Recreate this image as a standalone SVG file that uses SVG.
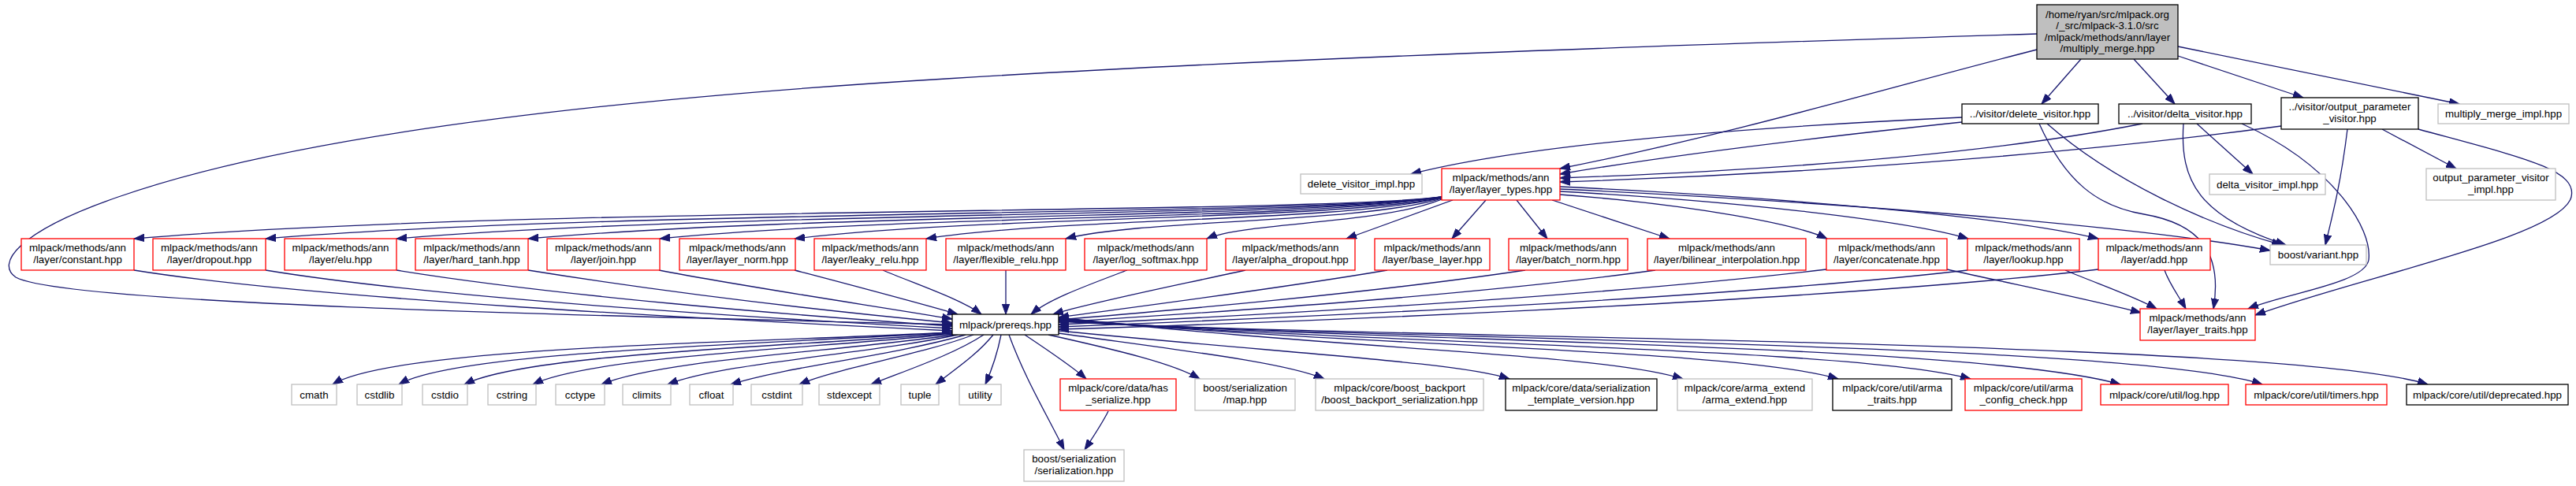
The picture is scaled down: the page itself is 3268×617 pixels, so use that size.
<svg xmlns="http://www.w3.org/2000/svg" width="3268" height="617" viewBox="0 0 3268 617">
<style>
text{font-family:"Liberation Sans",Arial,Helvetica,sans-serif;font-size:13.33px;text-anchor:middle;fill:#000}
rect{stroke-width:1.3}
.r{fill:#fff;stroke:#ff0000}
.k{fill:#fff;stroke:#000}
.g{fill:#fff;stroke:#bfbfbf}
.root{fill:#bfbfbf;stroke:#000}
#edges path{fill:none;stroke:#191970;stroke-width:1.3;marker-end:url(#a)}
</style>
<defs>
<marker id="a" markerUnits="userSpaceOnUse" markerWidth="14" markerHeight="10" refX="13" refY="5" orient="auto">
<path d="M0,0.3 L13,5 L0,9.7 z" fill="#191970" stroke="#191970" stroke-width="1"/>
</marker>
</defs>
<rect width="3268" height="617" fill="#fff"/>
<g id="edges">
<path d="M2584,43 C2100,58 1600,75 1200,100 C700,130 350,180 150,250 C20,295 -5,335 20,352 C80,385 700,400 1208,412"/>
<path d="M2640,75 L2590,132"/>
<path d="M2707,75 L2759,132"/>
<path d="M2763,71 L2922,124"/>
<path d="M2763,59 L3120,132"/>
<path d="M2584,63 C2400,110 2200,170 1979,214"/>
<path d="M2489,149 C2250,160 1950,180 1790,221"/>
<path d="M2489,155 C2300,175 2100,200 1979,221"/>
<path d="M2597,157 C2680,230 2800,285 2895,311"/>
<path d="M2587,157 C2620,230 2660,262 2720,272 C2790,284 2820,320 2808,392"/>
<path d="M2718,157 C2500,200 2200,218 1979,226"/>
<path d="M2787,157 L2858,221"/>
<path d="M2770,157 C2765,230 2790,275 2900,311"/>
<path d="M2844,157 C2960,210 3010,290 3005,330 C3000,360 2900,372 2852,392"/>
<path d="M2978,164 C2970,230 2960,270 2950,311"/>
<path d="M3022,164 L3116,214"/>
<path d="M2894,160 C2600,200 2250,222 1979,231"/>
<path d="M3068,164 C3200,200 3270,215 3262,250 C3250,300 3000,350 2861,400"/>
<path d="M1979,240 C2300,255 2700,285 2880,318"/>
<path d="M1979,237 C2250,250 2550,275 2662,303"/>
<path d="M1979,243 C2200,255 2420,280 2497,303"/>
<path d="M1979,247 C2150,260 2280,285 2318,303"/>
<path d="M1969,254 L2118,303"/>
<path d="M1924,254 L1963,303"/>
<path d="M1885,254 L1842,303"/>
<path d="M1843,254 L1708,303"/>
<path d="M1829,253 C1750,285 1580,282 1531,303"/>
<path d="M1829,252 C1720,284 1450,278 1352,303"/>
<path d="M1829,251 C1700,282 1350,276 1175,303"/>
<path d="M1829,251 C1680,280 1250,274 1008,303"/>
<path d="M1829,250 C1660,280 1150,272 837,303"/>
<path d="M1829,250 C1650,278 1050,270 670,303"/>
<path d="M1829,250 C1650,276 920,268 503,303"/>
<path d="M1829,250 C1650,274 780,266 337,303"/>
<path d="M1829,250 C1650,272 650,262 170,303"/>
<path d="M170,343 C400,380 900,405 1208,420"/>
<path d="M337,343 C550,378 950,403 1208,417"/>
<path d="M503,343 C700,375 1000,400 1208,414"/>
<path d="M670,343 C850,372 1050,395 1208,410"/>
<path d="M836,343 C950,365 1120,390 1208,405"/>
<path d="M1008,343 C1080,362 1160,383 1215,399"/>
<path d="M1120,343 C1160,360 1220,380 1245,399"/>
<path d="M1276,343 L1276,399"/>
<path d="M1430,343 C1380,362 1330,380 1308,399"/>
<path d="M1580,343 C1480,365 1380,385 1336,399"/>
<path d="M1760,343 C1600,370 1420,392 1343,403"/>
<path d="M1935,343 C1720,375 1450,397 1343,406"/>
<path d="M2100,343 C1850,378 1480,400 1343,409"/>
<path d="M2317,342 C2000,380 1500,405 1343,412"/>
<path d="M2496,343 C2150,383 1520,408 1343,415"/>
<path d="M2662,342 C2300,385 1550,412 1343,418"/>
<path d="M2470,342 C2560,362 2650,380 2716,397"/>
<path d="M2620,343 C2660,360 2705,375 2736,392"/>
<path d="M2746,343 C2752,360 2764,376 2773,392"/>
<path d="M1208,422 C950,435 500,440 422,488"/>
<path d="M1208,422 C980,437 580,445 506,488"/>
<path d="M1208,423 C1010,440 670,448 589,488"/>
<path d="M1208,424 C1040,442 750,452 676,488"/>
<path d="M1210,425 C1070,446 840,456 763,488"/>
<path d="M1215,425 C1100,450 920,460 847,488"/>
<path d="M1225,425 C1130,452 1000,465 927,488"/>
<path d="M1235,425 C1170,450 1060,468 1014,488"/>
<path d="M1248,425 C1210,450 1150,470 1105,488"/>
<path d="M1260,425 C1240,450 1210,470 1187,488"/>
<path d="M1270,425 C1265,450 1258,470 1250,488"/>
<path d="M1280,425 C1300,480 1330,530 1350,571"/>
<path d="M1300,425 C1330,445 1360,465 1378,481"/>
<path d="M1330,425 C1420,445 1490,462 1522,481"/>
<path d="M1343,423 C1500,445 1630,460 1680,481"/>
<path d="M1343,420 C1650,450 1850,460 1915,481"/>
<path d="M1343,403 C1700,444 2030,448 2135,481"/>
<path d="M1343,404 C1700,440 2200,442 2332,481"/>
<path d="M1343,405 C1700,437 2350,440 2500,481"/>
<path d="M1343,406 C1700,434 2500,434 2690,488"/>
<path d="M1343,407 C1700,432 2700,432 2870,488"/>
<path d="M1343,408 C1700,430 2900,430 3080,488"/>
<path d="M1406,522 C1398,538 1388,553 1376,571"/>
</g>
<g id="n_root"><rect class="root" x="2584" y="6" width="179" height="69"/><text x="2673.5" y="22.8">/home/ryan/src/mlpack.org</text><text x="2673.5" y="37.3">/_src/mlpack-3.1.0/src</text><text x="2673.5" y="51.8">/mlpack/methods/ann/layer</text><text x="2673.5" y="66.3">/multiply_merge.hpp</text></g>
<g id="n_delete_visitor"><rect class="k" x="2489" y="132" width="173" height="25"/><text x="2575.5" y="149">../visitor/delete_visitor.hpp</text></g>
<g id="n_delta_visitor"><rect class="k" x="2688" y="132" width="168" height="25"/><text x="2772" y="149">../visitor/delta_visitor.hpp</text></g>
<g id="n_output_parameter_visitor"><rect class="k" x="2894" y="124" width="174" height="40"/><text x="2981" y="139.5">../visitor/output_parameter</text><text x="2981" y="154.5">_visitor.hpp</text></g>
<g id="n_multiply_merge_impl"><rect class="g" x="3093" y="132" width="166" height="25"/><text x="3176" y="149">multiply_merge_impl.hpp</text></g>
<g id="n_delete_visitor_impl"><rect class="g" x="1650" y="221" width="154" height="25"/><text x="1727" y="238">delete_visitor_impl.hpp</text></g>
<g id="n_layer_types"><rect class="r" x="1829" y="214" width="150" height="40"/><text x="1904" y="229.5">mlpack/methods/ann</text><text x="1904" y="244.5">/layer/layer_types.hpp</text></g>
<g id="n_delta_visitor_impl"><rect class="g" x="2803" y="221" width="147" height="26"/><text x="2876.5" y="238.5">delta_visitor_impl.hpp</text></g>
<g id="n_output_parameter_visitor_impl"><rect class="g" x="3078" y="214" width="164" height="40"/><text x="3160" y="229.5">output_parameter_visitor</text><text x="3160" y="244.5">_impl.hpp</text></g>
<g id="n_constant"><rect class="r" x="27" y="303" width="143" height="40"/><text x="98.5" y="318.5">mlpack/methods/ann</text><text x="98.5" y="333.5">/layer/constant.hpp</text></g>
<g id="n_dropout"><rect class="r" x="194" y="303" width="143" height="40"/><text x="265.5" y="318.5">mlpack/methods/ann</text><text x="265.5" y="333.5">/layer/dropout.hpp</text></g>
<g id="n_elu"><rect class="r" x="361" y="303" width="142" height="40"/><text x="432" y="318.5">mlpack/methods/ann</text><text x="432" y="333.5">/layer/elu.hpp</text></g>
<g id="n_hard_tanh"><rect class="r" x="527" y="303" width="143" height="40"/><text x="598.5" y="318.5">mlpack/methods/ann</text><text x="598.5" y="333.5">/layer/hard_tanh.hpp</text></g>
<g id="n_join"><rect class="r" x="694" y="303" width="143" height="40"/><text x="765.5" y="318.5">mlpack/methods/ann</text><text x="765.5" y="333.5">/layer/join.hpp</text></g>
<g id="n_layer_norm"><rect class="r" x="862" y="303" width="147" height="40"/><text x="935.5" y="318.5">mlpack/methods/ann</text><text x="935.5" y="333.5">/layer/layer_norm.hpp</text></g>
<g id="n_leaky_relu"><rect class="r" x="1033" y="303" width="142" height="40"/><text x="1104" y="318.5">mlpack/methods/ann</text><text x="1104" y="333.5">/layer/leaky_relu.hpp</text></g>
<g id="n_flexible_relu"><rect class="r" x="1200" y="303" width="152" height="40"/><text x="1276" y="318.5">mlpack/methods/ann</text><text x="1276" y="333.5">/layer/flexible_relu.hpp</text></g>
<g id="n_log_softmax"><rect class="r" x="1376" y="303" width="155" height="40"/><text x="1453.5" y="318.5">mlpack/methods/ann</text><text x="1453.5" y="333.5">/layer/log_softmax.hpp</text></g>
<g id="n_alpha_dropout"><rect class="r" x="1555" y="303" width="164" height="40"/><text x="1637" y="318.5">mlpack/methods/ann</text><text x="1637" y="333.5">/layer/alpha_dropout.hpp</text></g>
<g id="n_base_layer"><rect class="r" x="1744" y="303" width="146" height="40"/><text x="1817" y="318.5">mlpack/methods/ann</text><text x="1817" y="333.5">/layer/base_layer.hpp</text></g>
<g id="n_batch_norm"><rect class="r" x="1914" y="303" width="151" height="40"/><text x="1989.5" y="318.5">mlpack/methods/ann</text><text x="1989.5" y="333.5">/layer/batch_norm.hpp</text></g>
<g id="n_bilinear_interpolation"><rect class="r" x="2090" y="303" width="201" height="40"/><text x="2190.5" y="318.5">mlpack/methods/ann</text><text x="2190.5" y="333.5">/layer/bilinear_interpolation.hpp</text></g>
<g id="n_concatenate"><rect class="r" x="2317" y="303" width="153" height="40"/><text x="2393.5" y="318.5">mlpack/methods/ann</text><text x="2393.5" y="333.5">/layer/concatenate.hpp</text></g>
<g id="n_lookup"><rect class="r" x="2496" y="303" width="142" height="40"/><text x="2567" y="318.5">mlpack/methods/ann</text><text x="2567" y="333.5">/layer/lookup.hpp</text></g>
<g id="n_add"><rect class="r" x="2662" y="303" width="142" height="40"/><text x="2733" y="318.5">mlpack/methods/ann</text><text x="2733" y="333.5">/layer/add.hpp</text></g>
<g id="n_variant"><rect class="g" x="2880" y="311" width="122" height="25"/><text x="2941" y="328">boost/variant.hpp</text></g>
<g id="n_layer_traits"><rect class="r" x="2715" y="392" width="146" height="40"/><text x="2788" y="407.5">mlpack/methods/ann</text><text x="2788" y="422.5">/layer/layer_traits.hpp</text></g>
<g id="n_prereqs"><rect class="k" x="1208" y="399" width="135" height="26"/><text x="1275.5" y="416.5">mlpack/prereqs.hpp</text></g>
<g id="n_cmath"><rect class="g" x="370" y="488" width="57" height="26"/><text x="398.5" y="505.5">cmath</text></g>
<g id="n_cstdlib"><rect class="g" x="453" y="488" width="57" height="26"/><text x="481.5" y="505.5">cstdlib</text></g>
<g id="n_cstdio"><rect class="g" x="536" y="488" width="57" height="26"/><text x="564.5" y="505.5">cstdio</text></g>
<g id="n_cstring"><rect class="g" x="619" y="488" width="61" height="26"/><text x="649.5" y="505.5">cstring</text></g>
<g id="n_cctype"><rect class="g" x="705" y="488" width="62" height="26"/><text x="736" y="505.5">cctype</text></g>
<g id="n_climits"><rect class="g" x="790" y="488" width="61" height="26"/><text x="820.5" y="505.5">climits</text></g>
<g id="n_cfloat"><rect class="g" x="875" y="488" width="55" height="26"/><text x="902.5" y="505.5">cfloat</text></g>
<g id="n_cstdint"><rect class="g" x="953" y="488" width="65" height="26"/><text x="985.5" y="505.5">cstdint</text></g>
<g id="n_stdexcept"><rect class="g" x="1039" y="488" width="77" height="26"/><text x="1077.5" y="505.5">stdexcept</text></g>
<g id="n_tuple"><rect class="g" x="1143" y="488" width="48" height="26"/><text x="1167" y="505.5">tuple</text></g>
<g id="n_utility"><rect class="g" x="1217" y="488" width="53" height="26"/><text x="1243.5" y="505.5">utility</text></g>
<g id="n_has_serialize"><rect class="r" x="1345" y="481" width="147" height="40"/><text x="1418.5" y="496.5">mlpack/core/data/has</text><text x="1418.5" y="511.5">_serialize.hpp</text></g>
<g id="n_map"><rect class="g" x="1516" y="481" width="127" height="40"/><text x="1579.5" y="496.5">boost/serialization</text><text x="1579.5" y="511.5">/map.hpp</text></g>
<g id="n_boost_backport"><rect class="g" x="1669" y="481" width="213" height="40"/><text x="1775.5" y="496.5">mlpack/core/boost_backport</text><text x="1775.5" y="511.5">/boost_backport_serialization.hpp</text></g>
<g id="n_serialization_template_version"><rect class="k" x="1910" y="481" width="192" height="40"/><text x="2006" y="496.5">mlpack/core/data/serialization</text><text x="2006" y="511.5">_template_version.hpp</text></g>
<g id="n_arma_extend"><rect class="g" x="2128" y="481" width="171" height="40"/><text x="2213.5" y="496.5">mlpack/core/arma_extend</text><text x="2213.5" y="511.5">/arma_extend.hpp</text></g>
<g id="n_arma_traits"><rect class="k" x="2325" y="481" width="151" height="40"/><text x="2400.5" y="496.5">mlpack/core/util/arma</text><text x="2400.5" y="511.5">_traits.hpp</text></g>
<g id="n_arma_config_check"><rect class="r" x="2493" y="481" width="148" height="40"/><text x="2567" y="496.5">mlpack/core/util/arma</text><text x="2567" y="511.5">_config_check.hpp</text></g>
<g id="n_log"><rect class="r" x="2665" y="488" width="162" height="26"/><text x="2746" y="505.5">mlpack/core/util/log.hpp</text></g>
<g id="n_timers"><rect class="r" x="2849" y="488" width="179" height="26"/><text x="2938.5" y="505.5">mlpack/core/util/timers.hpp</text></g>
<g id="n_deprecated"><rect class="k" x="3053" y="488" width="205" height="26"/><text x="3155.5" y="505.5">mlpack/core/util/deprecated.hpp</text></g>
<g id="n_serialization"><rect class="g" x="1299" y="571" width="127" height="40"/><text x="1362.5" y="586.5">boost/serialization</text><text x="1362.5" y="601.5">/serialization.hpp</text></g>
</svg>
